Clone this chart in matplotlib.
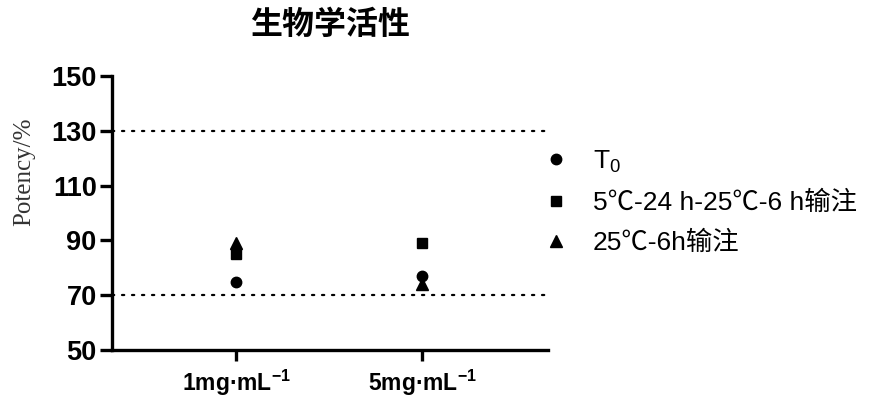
import matplotlib
matplotlib.use("Agg")
import matplotlib.pyplot as plt

plt.rcParams['font.family'] = ['Liberation Sans', 'Noto Sans CJK SC', 'DejaVu Sans']
plt.rcParams['mathtext.fontset'] = 'custom'
plt.rcParams['mathtext.rm'] = 'Liberation Sans'
plt.rcParams['mathtext.bf'] = 'Liberation Sans:bold'

categories = ['1mg·mL$^{\\mathbf{-1}}$', '5mg·mL$^{\\mathbf{-1}}$']
series_names = ['T$_{\\mathrm{0}}$', '5℃-24 h-25℃-6 h输注', '25℃-6h输注']
t0 = [75, 77]
s_5c = [85, 89]
s_25c = [89, 74]
ref_lines = [70, 130]
yticks = [50, 70, 90, 110, 130, 150]
title = '生物学活性'
ylabel = 'Potency/%'

fig = plt.figure(figsize=(8.69, 3.97), dpi=100)
ax = fig.add_axes([112/869, 1-350/397, 436/869, 274/397])

x = list(range(len(categories)))
h1, = ax.plot(x, t0, 'o', color='black', markersize=7.5, linestyle='none', zorder=3)
h2, = ax.plot(x, s_5c, 's', color='black', markersize=7, linestyle='none', zorder=3)
h3, = ax.plot(x, s_25c, '^', color='black', markersize=8, linestyle='none', zorder=3)

for v in ref_lines:
    ax.axhline(v, color='black', linewidth=1.6, linestyle=(0, (1, 3.5)),
               dash_capstyle='round', zorder=2)

ax.set_xlim(-0.667, 1.677)
ax.set_ylim(50, 150)
ax.set_yticks(yticks)
ax.set_xticks(x)
ax.set_xticklabels(categories)

for s in ['top', 'right']:
    ax.spines[s].set_visible(False)
for s in ['left', 'bottom']:
    ax.spines[s].set_linewidth(2.4)

ax.tick_params(axis='y', length=9, width=2.4, labelsize=19.5, pad=2)
ax.tick_params(axis='x', length=8, width=2.4, labelsize=16.5, pad=5)
for lab in ax.get_yticklabels() + ax.get_xticklabels():
    lab.set_fontweight('bold')

ax.set_ylabel(ylabel, family='Liberation Serif', fontsize=18, color='#333333')
ax.yaxis.set_label_coords(-0.175, 0.65)

fig.text(330/869, 1-25/397, title, ha='center', va='center', fontsize=23,
         fontweight='bold', family=['Noto Sans CJK SC'])

leg = fig.legend([h1, h2, h3], series_names, loc='center left',
                 bbox_to_anchor=(519/869, 1-202/397), frameon=False,
                 fontsize=19, handletextpad=0.9, labelspacing=0.6,
                 handlelength=1.0)

fig.savefig('out.png', dpi=100)
